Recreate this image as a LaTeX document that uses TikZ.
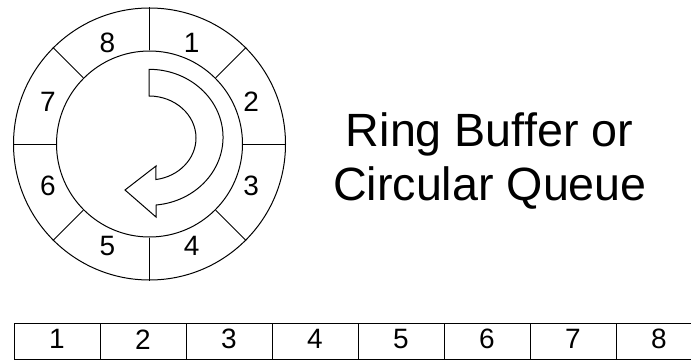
\documentclass[tikz,border=0pt]{standalone}
\usepackage{fontspec}
\setmainfont{Liberation Sans}
\begin{document}
\begin{tikzpicture}[x=0.75pt,y=-0.75pt,line width=0.75pt,
  ringcircle/.style={draw,circle,inner sep=0pt},
  digit/.style={font=\fontsize{21}{24}\selectfont,inner sep=0pt},
  cell/.style={draw,rectangle,minimum width=64.5pt,minimum height=27pt,inner sep=0pt},
  title/.style={font=\fontsize{35}{40}\selectfont,inner sep=0pt,anchor=base}]
\useasboundingbox (0,0) rectangle (691,360);
\clip (0,0) rectangle (691,360);
% ring
\node[ringcircle,minimum size=204pt] (outer) at (149.5,144) {};
\node[ringcircle,minimum size=139.5pt] (inner) at (149.5,144) {};
\foreach \a in {0,45,...,315} {
  \draw (inner.\a) -- (outer.\a);
}
\foreach \n in {1,...,8} {
  \pgfmathsetmacro{\ang}{67.5-45*(\n-1)}
  \node[digit] (r\n) at ({149.5+110*cos(\ang)},{144-110*sin(\ang)}) {\n};
}
% curved arrow
\draw[line join=miter] (149,70) -- (149,96)
  arc[start angle=-90,end angle=81.5,x radius=47,y radius=42]
  -- (156,166) -- (125,190) -- (156,217) -- (156,205)
  arc[start angle=84.6,end angle=-90,x radius=74,y radius=68] -- cycle;
% title
\node[title] (t1) at (489.5,146.5) {Ring Buffer or};
\node[title] (t2) at (490,200.5) {Circular Queue};
% array
\foreach \n in {1,...,8} {
  \node[cell] (c\n) at ({14+43+86*(\n-1)},341) {};
  \node[digit] (d\n) at ({14+43+86*(\n-1)},339.3) {\n};
}
\end{tikzpicture}
\end{document}
